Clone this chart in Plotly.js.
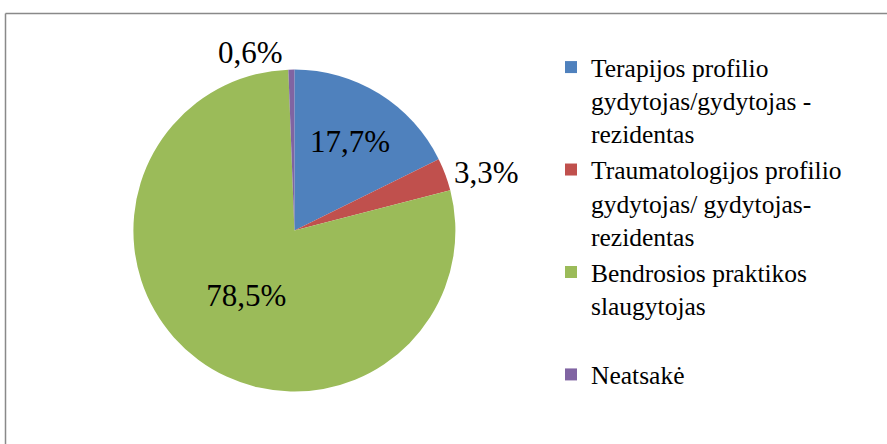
<!DOCTYPE html>
<html>
<head>
<meta charset="utf-8">
<script src="https://cdn.plot.ly/plotly-3.0.1.min.js"></script>
<style>html,body{margin:0;padding:0;background:#fff;}#chart{width:887px;height:444px;}</style>
</head>
<body>
<div id="chart"></div>
<script>
const categories = [
  "Terapijos profilio<br>gydytojas/gydytojas -<br>rezidentas",
  "Traumatologijos profilio<br>gydytojas/ gydytojas-<br>rezidentas",
  "Bendrosios praktikos<br>slaugytojas<br> ",
  "Neatsakė"
];
const values = [17.7, 3.3, 78.5, 0.6];
const colors = ["#4F81BD", "#C0504D", "#9BBB59", "#8064A2"];
const textPositions = ["inside", "outside", "inside", "outside"];

const W = 887, H = 444;
const px = x => x / W;
const py = y => 1 - y / H;
const FONT = "'Liberation Serif', 'Times New Roman', serif";

const trace = {
  type: "pie",
  labels: categories,
  values: values,
  sort: false,
  direction: "clockwise",
  rotation: 0,
  marker: {colors: colors, line: {color: "#ffffff", width: 0}},
  texttemplate: "%{value:.1f}%",
  textposition: textPositions,
  insidetextorientation: "horizontal",
  textfont: {family: FONT, size: 31, color: "#000"},
  hoverinfo: "none",
  domain: {x: [px(294.4 - 161), px(294.4 + 161)], y: [py(391.7), py(69.5)]}
};

const layout = {
  width: W, height: H,
  margin: {l: 0, r: 0, t: 0, b: 0},
  paper_bgcolor: "#fff",
  font: {family: FONT, size: 25.5, color: "#000"},
  separators: ",.",
  showlegend: true,
  legend: {
    x: px(551), xanchor: "left",
    y: py(44), yanchor: "top",
    valign: "top",
    font: {family: FONT, size: 25.5, color: "#000"},
    bgcolor: "rgba(0,0,0,0)"
  },
  shapes: [
    {type: "line", xref: "paper", yref: "paper", x0: px(5.5), x1: 1, y0: py(13.5), y1: py(13.5), line: {color: "#898989", width: 1.5}},
    {type: "line", xref: "paper", yref: "paper", x0: px(5.5), x1: px(5.5), y0: py(13.5), y1: 0, line: {color: "#898989", width: 1.5}}
  ]
};

Plotly.newPlot("chart", [trace], layout, {displayModeBar: false, staticPlot: true});
</script>
</body>
</html>
